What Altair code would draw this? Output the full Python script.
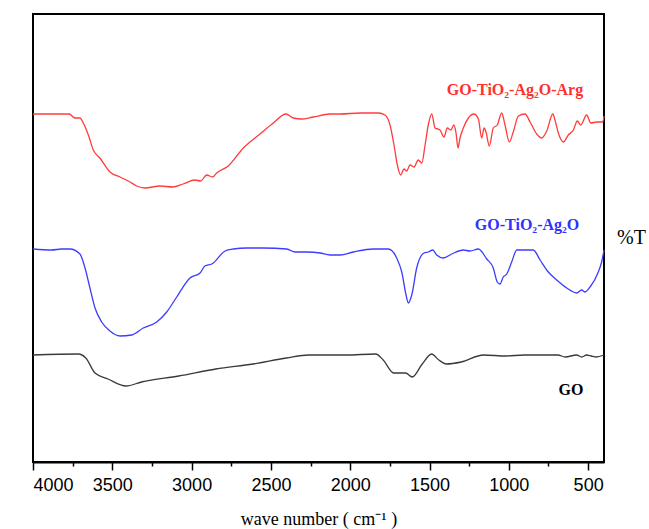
import altair as alt
import pandas as pd

# Red: GO-TiO2-Ag2O-Arg
red_wn = [4000, 3773, 3735, 3704, 3683, 3651, 3620, 3578, 3515, 3451, 3388, 3346, 3294, 3199, 3117,
          3054, 2979, 2943, 2905, 2867, 2842, 2769, 2674, 2569, 2485, 2405, 2359, 2306, 2233, 2127,
          2064, 1938, 1823, 1781, 1749, 1724, 1703, 1682, 1661, 1644, 1623, 1598, 1571, 1549, 1528,
          1508, 1486, 1465, 1434, 1409, 1388, 1366, 1346, 1333, 1320, 1308, 1287, 1255, 1220, 1192,
          1171, 1156, 1144, 1123, 1098, 1073, 1045, 1024, 997, 972, 940, 898, 866, 824, 793,
          761, 723, 709, 688, 656, 625, 593, 568, 547, 509, 484, 446, 408, 400]
red_t = [348, 348, 344, 344, 339, 327, 312, 304, 290, 285, 280, 276, 274, 276, 275,
         278, 282, 281, 287, 285, 289, 296, 314, 328, 339, 348, 344, 343, 345, 348,
         348, 349, 349, 347, 337, 317, 297, 287, 293, 291, 297, 295, 302, 299, 317,
         337, 348, 334, 332, 325, 334, 332, 337, 329, 314, 324, 334, 344, 348, 343,
         324, 334, 330, 316, 334, 337, 349, 337, 320, 330, 346, 348, 340, 328, 324,
         331, 348, 342, 329, 320, 327, 332, 341, 337, 347, 339, 340, 340, 346]

# Blue: GO-TiO2-Ag2O
blue_wn = [4000, 3882, 3819, 3767, 3704, 3672, 3641, 3609, 3567, 3515, 3451, 3378, 3305, 3220, 3157,
           3094, 3010, 2947, 2916, 2873, 2789, 2737, 2653, 2548, 2400, 2348, 2274, 2190, 2127, 2064,
           1980, 1854, 1760, 1707, 1675, 1648, 1634, 1612, 1581, 1535, 1508, 1480, 1455, 1413, 1360,
           1287, 1245, 1192, 1139, 1098, 1073, 1056, 1035, 1013, 982, 950, 846, 803, 751, 698,
           635, 572, 541, 520, 488, 436, 415, 400]
blue_t = [213, 212, 213, 213, 208, 194, 174, 154, 140, 131, 126, 127, 134, 140, 150,
          165, 184, 189, 196, 198, 211, 213, 214, 214, 213, 210, 210, 209, 207, 207,
          210, 213, 213, 204, 190, 167, 159, 167, 194, 209, 210, 212, 207, 204, 208,
          212, 211, 213, 203, 194, 180, 178, 185, 188, 200, 212, 212, 202, 190, 182,
          174, 169, 172, 170, 175, 190, 200, 212]

# Black: GO
go_wn = [4000, 3714, 3667, 3609, 3527, 3414, 3316, 3081, 2847, 2613, 2402, 2261, 2027, 1839, 1792,
         1726, 1651, 1609, 1546, 1487, 1441, 1394, 1300, 1160, 1019, 902, 691, 644, 573, 540,
         510, 480, 450, 400]
go_t = [107, 108, 104, 89, 83, 76, 80, 86, 93, 98, 104, 107, 107, 108, 102,
        89, 89, 85, 98, 108, 102, 98, 100, 107, 106, 107, 107, 105, 107, 105,
        107, 106, 105, 107]

labels = ["GO-TiO₂-Ag₂O-Arg", "GO-TiO₂-Ag₂O", "GO"]
label_wn = [961, 885, 608]
label_t = [372, 237, 72]
label_colors = ["#ff3030", "#3030ff", "#000000"]
line_colors = ["#ff3c3c", "#3c3cff", "#3a3a3a"]

xscale = alt.Scale(domain=[4000, 400], nice=False, zero=False)
yscale = alt.Scale(domain=[0, 448], nice=False, zero=False)

x_axis = alt.Axis(
    values=list(range(4000, 499, -250)),
    labelExpr="datum.value % 500 === 0 ? datum.value : ''",
    tickSize={"condition": {"test": "datum.value % 500 === 0", "value": 8}, "value": 4},
    tickColor="black", tickWidth=1.5,
    domainColor="black", domainWidth=2,
    labelFont="Liberation Sans", labelFontSize=18, labelColor="black", labelPadding=6,
    grid=False,
    title="wave number ( cm⁻¹ )", titleFont="Liberation Serif", titleFontSize=18,
    titleFontWeight="normal", titleColor="black", titlePadding=16,
)
y_axis = alt.Axis(
    orient="right", labels=False, ticks=False, domain=False, grid=False,
    title="%T", titleAngle=0, titleFont="Liberation Serif", titleFontSize=20,
    titleFontWeight="normal", titleColor="black", titleX=27, titleY=223,
    titleAlign="center", titleBaseline="middle",
)

X = alt.X("wn:Q", scale=xscale, axis=x_axis)
Y = alt.Y("t:Q", scale=yscale, axis=y_axis)


def series(wn, t, color):
    df = pd.DataFrame({"wn": wn, "t": t})
    return alt.Chart(df).mark_line(color=color, strokeWidth=1.3, interpolate="monotone").encode(
        x=X, y=Y,
    )


lines = [
    series(red_wn, red_t, line_colors[0]),
    series(blue_wn, blue_t, line_colors[1]),
    series(go_wn, go_t, line_colors[2]),
]

lab_df = pd.DataFrame({"label": labels, "wn": label_wn, "t": label_t, "c": label_colors})
texts = alt.Chart(lab_df).mark_text(
    font="Liberation Serif", fontSize=16, fontWeight="bold", align="center", baseline="middle"
).encode(
    x=X, y=Y,
    text="label:N",
    color=alt.Color("c:N", scale=None),
)

chart = alt.layer(*lines, texts).properties(
    width=571, height=448,
    autosize=alt.AutoSizeParams(type="none"),
    padding={"left": 33, "top": 14, "right": 45, "bottom": 67},
    background="white",
).configure_view(stroke="black", strokeWidth=2)

chart.save("out.html", embed_options={"renderer": "svg", "actions": False})
